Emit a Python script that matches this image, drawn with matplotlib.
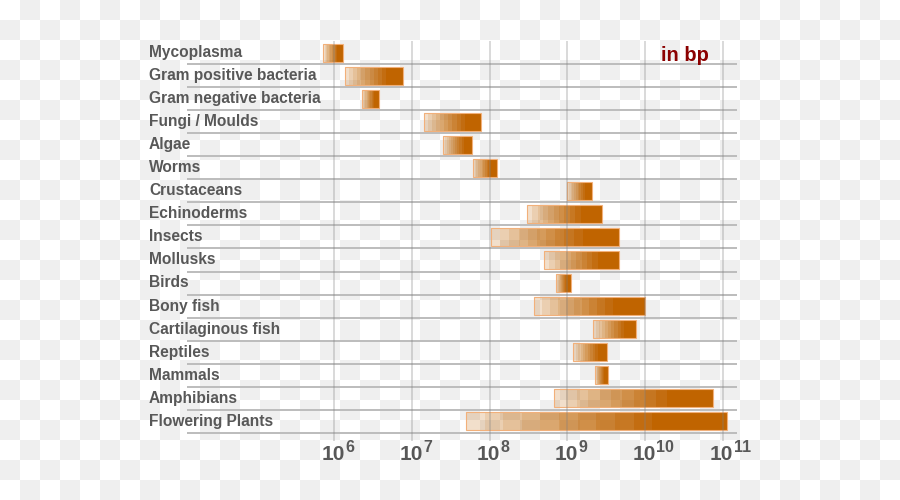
import numpy as np
import matplotlib
matplotlib.use("Agg")
import matplotlib.pyplot as plt
from matplotlib import transforms
from matplotlib.ticker import NullLocator

# genome size ranges, in base pairs
groups = ["Mycoplasma", "Gram positive bacteria", "Gram negative bacteria",
          "Fungi / Moulds", "Algae", "Worms", "Crustaceans", "Echinoderms",
          "Insects", "Mollusks", "Birds", "Bony fish", "Cartilaginous fish",
          "Reptiles", "Mammals", "Amphibians", "Flowering Plants"]
low = [7.2e5, 1.36e6, 2.25e6, 1.43e7, 2.5e7, 6.1e7, 9.9e8, 3.0e8,
       1.04e8, 5.0e8, 7.1e8, 3.7e8, 2.14e9, 1.19e9, 2.24e9, 6.8e8, 4.95e7]
high = [1.3e6, 7.6e6, 3.76e6, 7.7e7, 5.9e7, 1.24e8, 2.06e9, 2.8e9,
        4.66e9, 4.66e9, 1.1e9, 1.0e10, 7.6e9, 3.26e9, 3.33e9, 7.4e10, 1.12e11]
decades = [6, 7, 8, 9, 10, 11]

plt.rcParams['font.family'] = ['Liberation Sans', 'DejaVu Sans']

orange = '#c06400'
grey_text = '#585858'

fig = plt.figure(figsize=(9, 5), dpi=100)

# checkered backdrop
rr, cc = np.indices((500, 900))
board = np.where((rr // 20 + cc // 20) % 2, 0.935, 1.0)
fig.figimage(board, cmap='gray', vmin=0, vmax=1, origin='upper', zorder=-10)

ax = fig.add_axes([187 / 900, 59 / 500, 550 / 900, 400 / 500])
ax.set_facecolor('none')
ax.set_xscale('log')
for s in ax.spines.values():
    s.set_visible(False)

n = len(groups)
for y in np.arange(n) + 0.5:
    ax.axhline(y, color='#bcbcbc', lw=1.4, zorder=1)
for k in decades:
    ax.axvline(10.0 ** k, color='#808080', alpha=0.34, lw=1.2, zorder=4)

# translucent gradient bars: overlapping layers that all end at the right edge,
# so the opacity builds up in steps from faint (left) to solid (right)
nseg = 14
bar_h = 0.78
t = (np.arange(nseg) + 0.5) / nseg
target = np.minimum(0.14 + 0.86 * (t / 0.75) ** 0.85, 1.0)
prev = np.concatenate([[0.0], target[:-1]])
layer_alpha = []
for A, P in zip(target, prev):
    if P >= 1.0:
        break
    layer_alpha.append(1.0 - (1.0 - A) / (1.0 - P))

for i in range(n):
    edges = np.logspace(np.log10(low[i]), np.log10(high[i]), nseg + 1)
    for j, la in enumerate(layer_alpha):
        ax.barh(i, high[i] - edges[j], left=edges[j], height=bar_h,
                color=orange, alpha=la, linewidth=0, zorder=2)
    ax.barh(i, high[i] - low[i], left=low[i], height=bar_h, fill=False,
            edgecolor='#f2b07a', linewidth=0.8, zorder=3)

ax.set_xlim(10 ** 4.104, 10 ** 11.183)
ax.set_ylim(16.85, -0.5)
ax.set_xticks([])
ax.set_yticks([])
ax.xaxis.set_minor_locator(NullLocator())

# category labels
lab_tr = transforms.blended_transform_factory(fig.transFigure, ax.transData)
for i, name in enumerate(groups):
    ax.text(149 / 900, i + 0.19, name, transform=lab_tr, fontsize=11.2,
            fontweight='bold', color=grey_text, ha='left', va='baseline',
            zorder=5)

# decade labels 10^k
for k in decades:
    ax.annotate('10', xy=(10.0 ** k, 0), xycoords=('data', 'axes fraction'),
                xytext=(-1, -19), textcoords='offset pixels', ha='center',
                va='baseline', fontsize=15, fontweight='bold', color=grey_text,
                annotation_clip=False)
    ax.annotate(str(k), xy=(10.0 ** k, 0), xycoords=('data', 'axes fraction'),
                xytext=(11, -11), textcoords='offset pixels', ha='left',
                va='baseline', fontsize=11.5, fontweight='bold', color=grey_text,
                annotation_clip=False)

fig.text(661 / 900, 1 - 61 / 500, 'in bp', color='#8b0000', fontsize=14.5,
         fontweight='bold', ha='left', va='baseline')

fig.savefig('out.png', dpi=100)
